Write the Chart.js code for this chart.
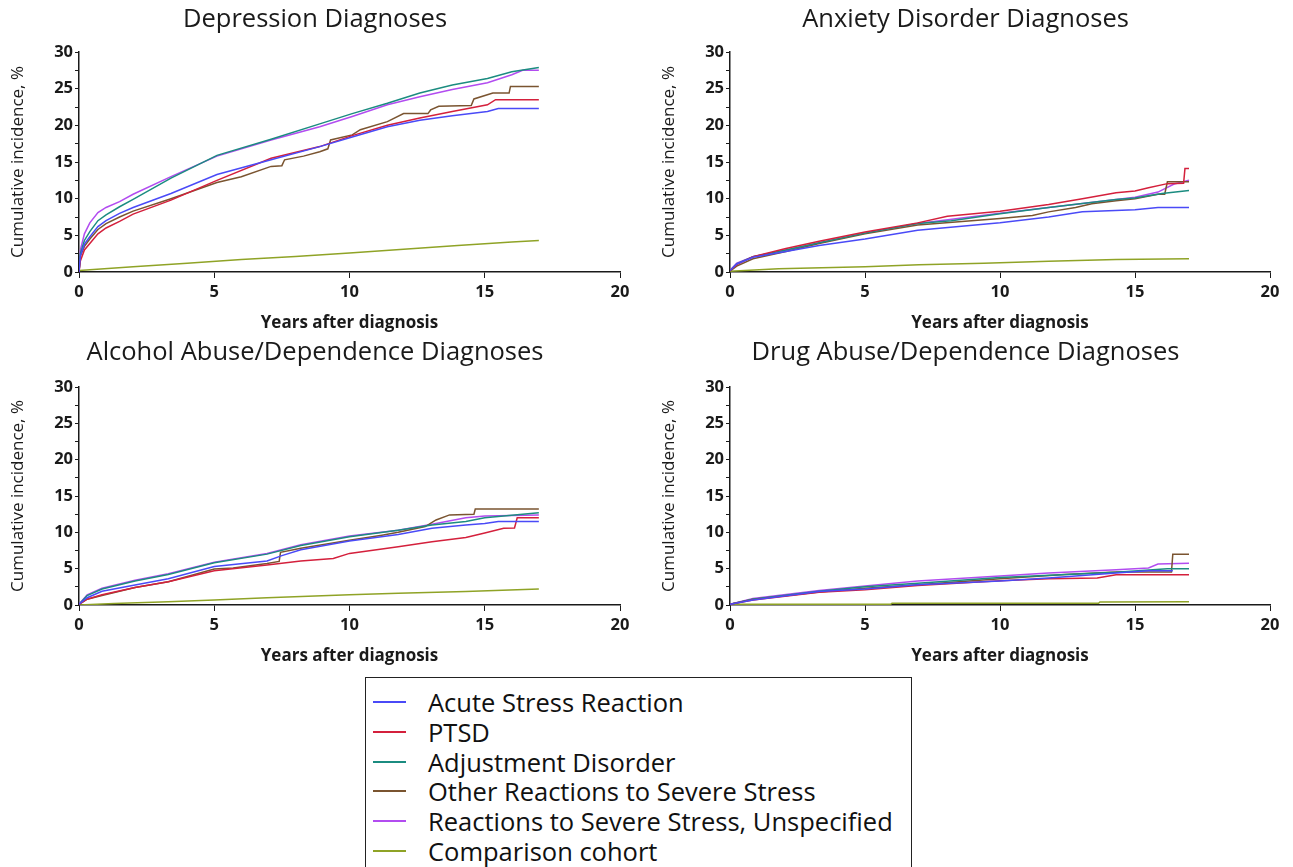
<!DOCTYPE html>
<html>
<head>
<meta charset="utf-8">
<script src="https://cdn.jsdelivr.net/npm/chart.js@4.4.0/dist/chart.umd.min.js"></script>
<style>
body { margin:0; background:#fff; width:1293px; height:867px; overflow:hidden; position:relative; font-family:'Open Sans', sans-serif; }
canvas { position:absolute; }
#legend { position:absolute; left:365px; top:677px; width:547px; height:210px; border:1px solid #222; box-sizing:border-box; }
.row { position:absolute; left:0; height:30px; font-size:25.5px; line-height:30px; color:#111; white-space:nowrap; }
.row .sw { position:absolute; left:7px; top:14px; width:33px; height:0; border-top:2px solid; }
.row .tx { position:absolute; left:62px; }
</style>
</head>
<body>
<canvas id="dep" width="630" height="340" style="left:0;top:0"></canvas>
<canvas id="anx" width="629" height="340" style="left:651px;top:0"></canvas>
<canvas id="alc" width="630" height="340" style="left:0;top:333px"></canvas>
<canvas id="drug" width="629" height="340" style="left:651px;top:333px"></canvas>
<div id="legend"></div>
<script>
const seriesNames = ['Acute Stress Reaction', 'PTSD', 'Adjustment Disorder', 'Other Reactions to Severe Stress', 'Reactions to Severe Stress, Unspecified', 'Comparison cohort'];
const seriesColors = ['#4a4af7', '#d4203c', '#1b8c80', '#7a5430', '#b24cf0', '#8fa326'];
const panelTitles = ['Depression Diagnoses', 'Anxiety Disorder Diagnoses', 'Alcohol Abuse/Dependence Diagnoses', 'Drug Abuse/Dependence Diagnoses'];
const yTicks = [0, 5, 10, 15, 20, 25, 30];
const xTicks = [0, 5, 10, 15, 20];

// [years, cumulative incidence %]
const depAcute = [[0,0],[0.05,2.2],[0.2,3.8],[0.4,4.8],[0.7,6.2],[1,7.0],[1.5,8.0],[2,8.8],[3.4,10.7],[5.1,13.3],[7.1,15.3],[8.9,17.1],[10.1,18.4],[11.4,19.8],[12.6,20.7],[13.8,21.3],[15.1,21.9],[15.5,22.3],[17,22.3]];
const depPtsd = [[0,0],[0.05,1.5],[0.2,3.0],[0.4,3.9],[0.7,5.2],[1,6.0],[1.5,6.9],[2,7.9],[3.4,9.8],[5.1,12.5],[7.1,15.5],[8.9,17.1],[10.1,18.6],[11.4,20.0],[12.6,21.0],[13.8,21.9],[15.1,22.8],[15.4,23.5],[17,23.5]];
const depAdjust = [[0,0],[0.05,2.5],[0.2,4.3],[0.4,5.5],[0.7,7.0],[1,7.8],[1.5,8.9],[2,9.9],[3.4,12.8],[5.1,15.9],[7.1,18.1],[8.9,20.2],[10.1,21.6],[11.4,23.0],[12.6,24.4],[13.8,25.5],[15.1,26.4],[16,27.3],[17,27.9]];
const depOther = [[0,0],[0.05,2.2],[0.2,3.5],[0.4,4.5],[0.7,5.8],[1,6.6],[1.5,7.5],[2,8.3],[3.4,10.0],[5.1,12.2],[6,13.0],[7.1,14.4],[7.5,14.5],[7.6,15.3],[8.3,15.8],[8.9,16.4],[9.2,16.8],[9.3,18.0],[10.1,18.7],[10.4,19.4],[11.4,20.5],[12.0,21.6],[12.9,21.6],[13.0,22.1],[13.3,22.6],[14.5,22.7],[14.6,23.6],[15.3,24.4],[15.9,24.4],[15.95,25.3],[17,25.3]];
const depUnspec = [[0,0],[0.05,3.0],[0.2,5.2],[0.4,6.7],[0.7,8.1],[1,8.8],[1.5,9.6],[2,10.6],[3.4,13.0],[5.1,15.8],[7.1,18.0],[8.9,19.8],[10.1,21.2],[11.4,22.8],[12.6,23.9],[13.8,24.9],[15.1,25.8],[16,26.9],[16.4,27.5],[17,27.5]];
const depComparison = [[0,0.2],[2,0.7],[4,1.2],[6,1.7],[8,2.1],[10,2.6],[12,3.1],[14,3.6],[16,4.1],[17,4.3]];

const anxAcute = [[0,0.2],[0.25,1.1],[0.85,2.0],[2.07,2.8],[3.3,3.6],[5,4.5],[6.95,5.7],[10,6.7],[11.8,7.5],[13.05,8.2],[15,8.5],[15.85,8.8],[17,8.8]];
const anxPtsd = [[0,0.2],[0.25,1.0],[0.85,2.1],[2.07,3.2],[3.3,4.2],[5,5.45],[6.95,6.7],[8.05,7.6],[10,8.3],[11.8,9.2],[13.05,10.0],[14.3,10.8],[15,11.05],[15.5,11.5],[16.2,12.05],[16.8,12.1],[16.85,14.1],[17,14.1]];
const anxAdjust = [[0,0.2],[0.25,1.1],[0.85,2.1],[2.07,3.0],[3.3,4.0],[5,5.3],[6.95,6.6],[8.2,7.0],[10,7.95],[11.8,8.8],[14.3,9.9],[15,10.1],[16,10.7],[17,11.1]];
const anxOther = [[0,0.1],[0.25,0.8],[0.85,1.8],[2.07,2.8],[3.3,3.9],[5,5.2],[6.95,6.4],[10,7.3],[11.2,7.7],[11.8,8.2],[12.8,8.8],[13.4,9.3],[14.3,9.7],[15,10.0],[15.85,10.6],[16.1,10.6],[16.2,12.3],[17,12.3]];
const anxUnspec = [[0,0.2],[0.25,1.2],[0.85,2.1],[2.07,3.0],[3.3,4.0],[5,5.3],[6.95,6.6],[10,8.0],[11.8,8.8],[14.3,9.9],[15,10.2],[15.85,10.9],[16.45,12.0],[17,12.5]];
const anxComparison = [[0,0.1],[1.8,0.45],[5,0.7],[7,1.0],[9.4,1.2],[11.8,1.45],[14.3,1.7],[17,1.8]];

const alcAcute = [[0,0.1],[0.3,1.0],[0.85,1.9],[2.07,2.75],[3.3,3.6],[5,5.3],[6.95,6.05],[7.5,6.8],[8.2,7.6],[10,8.8],[11.8,9.7],[13.05,10.55],[14.3,11.0],[15,11.2],[15.5,11.5],[17,11.5]];
const alcPtsd = [[0,0.1],[0.3,0.8],[0.85,1.4],[2.07,2.4],[3.3,3.2],[5,4.7],[6.95,5.5],[8.2,6.05],[9.4,6.4],[10,7.1],[11.8,8.0],[13.05,8.7],[14.3,9.3],[15,9.9],[15.7,10.55],[16.1,10.6],[16.2,12.0],[17,12.0]];
const alcAdjust = [[0,0.1],[0.3,1.3],[0.85,2.2],[2.07,3.3],[3.3,4.2],[5,5.8],[6.95,7.0],[8.2,8.2],[10,9.4],[11.8,10.3],[13.05,11.0],[14.3,11.5],[15,12.0],[17,12.7]];
const alcOther = [[0,0.1],[0.3,0.8],[0.85,1.3],[2.07,2.4],[3.3,3.2],[5,4.95],[5.7,5.1],[6.95,5.7],[7.4,6.0],[7.45,7.25],[8.2,7.8],[10,8.9],[11.2,9.6],[11.8,10.0],[12.8,10.8],[13.2,11.7],[13.7,12.4],[14.6,12.5],[14.65,13.2],[17,13.2]];
const alcUnspec = [[0,0.1],[0.3,1.4],[0.85,2.3],[2.07,3.4],[3.3,4.3],[5,5.9],[6.95,7.1],[8.2,8.3],[10,9.5],[11.8,10.3],[13.05,11.1],[14.3,12.0],[15,12.25],[17,12.4]];
const alcComparison = [[0,0],[1.3,0.2],[3.3,0.45],[5,0.7],[6.95,1.0],[10,1.4],[11.8,1.6],[14.3,1.85],[17,2.2]];

const drugAcute = [[0,0.1],[0.85,0.7],[3.3,1.85],[5,2.2],[6.95,2.8],[10,3.3],[11.8,3.7],[14.3,4.4],[15.5,4.7],[16.4,4.7]];
const drugPtsd = [[0,0.1],[0.85,0.7],[3.3,1.75],[5,2.1],[6.95,2.7],[10,3.35],[11.8,3.6],[13.6,3.7],[14.3,4.15],[17,4.15]];
const drugAdjust = [[0,0.1],[0.85,0.8],[3.3,1.9],[5,2.5],[6.95,3.0],[10,3.8],[14.3,4.5],[16.2,5.0],[17,5.0]];
const drugOther = [[0,0.1],[0.85,0.8],[3.3,1.8],[5,2.3],[6.95,2.8],[10,3.6],[12.4,4.2],[14.3,4.55],[16.35,4.55],[16.4,7.0],[17,7.0]];
const drugUnspec = [[0,0.1],[0.85,0.9],[3.3,2.0],[5,2.6],[6.95,3.3],[10,4.0],[11.8,4.4],[14.3,4.85],[15.5,5.1],[15.85,5.65],[17,5.75]];
const drugComparison = [[0,0.1],[5.95,0.1],[6.0,0.25],[13.65,0.25],[13.7,0.42],[17,0.45]];

const FONT = "'Open Sans', sans-serif";
const INK = '#1a1a1a';

function makePanel(id, title, series, titleGap) {
  new Chart(document.getElementById(id).getContext('2d'), {
    type: 'line',
    data: {
      datasets: series.map((pts, i) => ({
        label: seriesNames[i],
        data: pts.map(p => ({ x: p[0], y: p[1] })),
        borderColor: seriesColors[i],
        borderWidth: 1.5,
        pointRadius: 0,
        tension: 0,
        fill: false
      }))
    },
    options: {
      responsive: false,
      animation: false,
      devicePixelRatio: 1,
      events: [],
      layout: { padding: { left: 0, right: 0, top: 0, bottom: 4 } },
      plugins: {
        legend: { display: false },
        tooltip: { enabled: false },
        title: {
          display: true, text: title, color: INK,
          font: { family: FONT, size: 25.5, weight: 'normal', lineHeight: 1.2 },
          padding: { top: 4.7, bottom: titleGap }
        }
      },
      scales: {
        x: {
          type: 'linear', min: 0, max: 20,
          afterBuildTicks: s => { s.ticks = xTicks.map(v => ({ value: v })); },
          afterFit: s => { s.paddingRight = 10; },
          ticks: { color: INK, padding: 4, font: { family: FONT, size: 16.5, weight: 'bold', lineHeight: 1.2 } },
          grid: { drawOnChartArea: false, tickLength: 6, color: INK },
          border: { color: INK, width: 1.5 },
          title: {
            display: true, text: 'Years after diagnosis', color: INK,
            font: { family: FONT, size: 17, weight: 'bold', lineHeight: 1.2 },
            padding: { top: 7, bottom: 2.8 }
          }
        },
        y: {
          min: 0, max: 30,
          afterBuildTicks: s => {
            const t = [];
            for (let k = 0; k < yTicks.length; k++) {
              t.push({ value: yTicks[k] });
              if (k < yTicks.length - 1) t.push({ value: (yTicks[k] + yTicks[k + 1]) / 2 });
            }
            s.ticks = t;
          },
          afterFit: s => { s.width = 79; },
          ticks: {
            color: INK, padding: 2, autoSkip: false,
            font: { family: FONT, size: 16.5, weight: 'bold', lineHeight: 1.2 },
            callback: v => (yTicks.includes(v) ? String(v) : '')
          },
          grid: { drawOnChartArea: false, tickLength: 4, color: INK },
          border: { color: INK, width: 1.5 },
          title: {
            display: true, text: 'Cumulative incidence, %', color: INK,
            font: { family: FONT, size: 17, weight: 'normal', lineHeight: 1.2 },
            padding: { top: 7.8, bottom: 0 }
          }
        }
      }
    }
  });
}

makePanel('dep', panelTitles[0], [depAcute, depPtsd, depAdjust, depOther, depUnspec, depComparison], 16.7);
makePanel('anx', panelTitles[1], [anxAcute, anxPtsd, anxAdjust, anxOther, anxUnspec, anxComparison], 16.7);
makePanel('alc', panelTitles[2], [alcAcute, alcPtsd, alcAdjust, alcOther, alcUnspec, alcComparison], 18.7);
makePanel('drug', panelTitles[3], [drugAcute, drugPtsd, drugAdjust, drugOther, drugUnspec, drugComparison], 18.7);

// legend box
const legend = document.getElementById('legend');
seriesNames.forEach((name, i) => {
  const row = document.createElement('div');
  row.className = 'row';
  row.style.top = (9 + i * 29.8) + 'px';
  row.innerHTML = '<span class="sw" style="border-color:' + seriesColors[i] + '"></span><span class="tx">' + name + '</span>';
  legend.appendChild(row);
});
</script>
</body>
</html>
